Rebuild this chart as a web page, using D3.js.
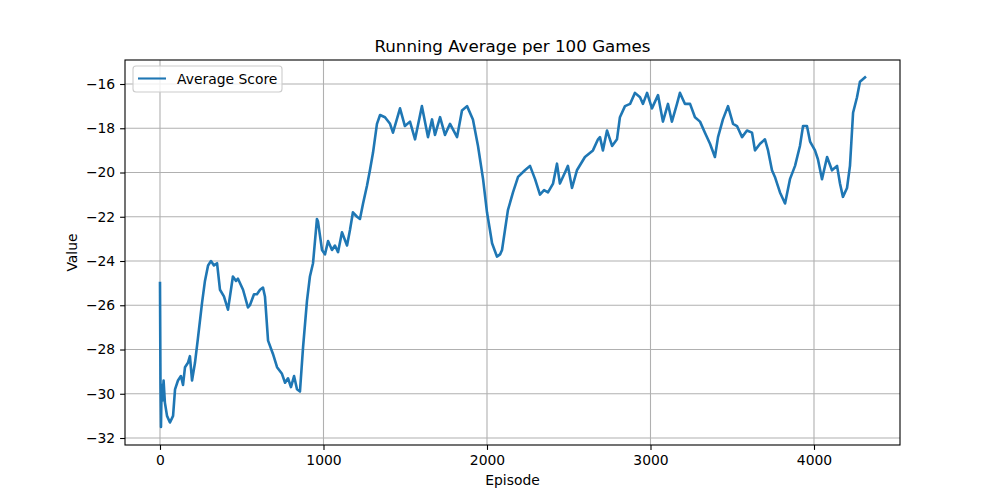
<!DOCTYPE html>
<html>
<head>
<meta charset="utf-8">
<script src="https://cdn.jsdelivr.net/npm/d3@7"></script>
<style>
  html, body { margin: 0; padding: 0; background: #fff; }
  svg { display: block; font-family: "DejaVu Sans", sans-serif; }
</style>
</head>
<body>
<svg id="chart" width="1000" height="500"></svg>
<script>
const episodes = [0,3,6,10,15,22,30,43,61,80,92,110,128,141,153,171,183,196,214,232,257,275,294,312,330,349,367,391,416,446,465,477,508,538,550,575,593,612,630,642,661,691,716,746,765,783,801,820,838,856,875,899,917,936,960,966,991,1009,1028,1052,1070,1089,1113,1144,1162,1180,1205,1223,1242,1266,1284,1303,1327,1346,1376,1407,1425,1468,1498,1529,1560,1602,1639,1664,1682,1713,1743,1774,1817,1847,1878,1914,1945,1976,2000,2018,2031,2061,2080,2092,2110,2128,2159,2190,2232,2263,2294,2324,2349,2373,2404,2428,2446,2477,2495,2520,2550,2599,2648,2679,2691,2709,2734,2765,2795,2813,2844,2875,2905,2936,2954,2979,3009,3046,3076,3107,3131,3162,3180,3211,3242,3272,3303,3333,3364,3394,3413,3443,3474,3505,3529,3560,3590,3621,3639,3670,3700,3719,3743,3761,3792,3823,3853,3884,3914,3933,3957,3976,4006,4024,4049,4080,4110,4141,4159,4177,4202,4220,4239,4263,4281,4312];
const averageScore = [-25.0,-29.5,-31.5,-29.6,-30.3,-29.4,-30.4,-31.0,-31.3,-31.0,-29.8,-29.4,-29.2,-29.6,-28.8,-28.6,-28.3,-29.4,-28.6,-27.5,-25.9,-24.9,-24.2,-24.0,-24.2,-24.1,-25.3,-25.6,-26.2,-24.7,-24.9,-24.8,-25.3,-26.1,-26.0,-25.5,-25.5,-25.3,-25.2,-25.6,-27.6,-28.2,-28.8,-29.1,-29.5,-29.3,-29.7,-29.2,-29.8,-29.9,-27.9,-25.8,-24.7,-24.1,-22.1,-22.2,-23.5,-23.7,-23.1,-23.5,-23.3,-23.6,-22.7,-23.3,-22.6,-21.8,-22.0,-22.1,-21.4,-20.6,-19.9,-19.1,-17.8,-17.4,-17.5,-17.8,-18.2,-17.1,-17.9,-17.7,-18.5,-17.0,-18.4,-17.6,-18.3,-17.5,-18.3,-17.8,-18.4,-17.2,-17.0,-17.6,-18.8,-20.3,-21.8,-22.6,-23.2,-23.8,-23.7,-23.5,-22.6,-21.7,-20.9,-20.2,-19.9,-19.7,-20.3,-21.0,-20.8,-20.9,-20.5,-19.6,-20.5,-20.0,-19.7,-20.7,-19.9,-19.3,-19.0,-18.5,-18.4,-19.0,-18.1,-18.8,-18.5,-17.5,-17.0,-16.9,-16.4,-16.6,-16.9,-16.4,-17.1,-16.5,-17.7,-16.9,-17.7,-16.9,-16.4,-16.9,-16.9,-17.5,-17.7,-18.2,-18.7,-19.3,-18.4,-17.6,-17.0,-17.8,-17.9,-18.4,-18.1,-18.2,-19.0,-18.7,-18.5,-19.0,-19.9,-20.2,-20.9,-21.4,-20.3,-19.7,-18.8,-17.9,-17.9,-18.6,-19.0,-19.4,-20.3,-19.3,-19.9,-19.7,-20.5,-21.1,-20.7,-19.7,-17.3,-16.6,-15.9,-15.7];
const xTicks = [0,1000,2000,3000,4000];
const yTicks = [-32,-30,-28,-26,-24,-22,-20,-18,-16];
const titleText = "Running Average per 100 Games";
const xLabel = "Episode";
const yLabel = "Value";
const seriesName = "Average Score";

const data = episodes.map((e,i)=>({x:e,y:averageScore[i]}));
const svg = d3.select("#chart");
const L=125,R=900,T=60,B=445;
const x = d3.scaleLinear().domain([-214,4526]).range([L,R]);
const y = d3.scaleLinear().domain([-32.316,-14.915]).range([B,T]);
const fmt = d => String(d).replace("-", "\u2212");

// grid
const g = svg.append("g");
g.selectAll(".gx").data(xTicks).join("line")
  .attr("x1",d=>x(d)).attr("x2",d=>x(d)).attr("y1",T).attr("y2",B)
  .attr("stroke","#b0b0b0").attr("stroke-width",1.1);
g.selectAll(".gy").data(yTicks).join("line")
  .attr("y1",d=>y(d)).attr("y2",d=>y(d)).attr("x1",L).attr("x2",R)
  .attr("stroke","#b0b0b0").attr("stroke-width",1.1);

// line
svg.append("defs").append("clipPath").attr("id","clip").append("rect")
  .attr("x",L).attr("y",T).attr("width",R-L).attr("height",B-T);
svg.append("path").datum(data)
  .attr("clip-path","url(#clip)")
  .attr("fill","none").attr("stroke","#1f77b4").attr("stroke-width",2.6)
  .attr("stroke-linejoin","round").attr("stroke-linecap","square")
  .attr("d", d3.line().x(d=>x(d.x)).y(d=>y(d.y)));

// axes
const xa = svg.append("g").attr("transform",`translate(0,${B})`)
  .call(d3.axisBottom(x).tickValues(xTicks).tickFormat(fmt).tickSizeOuter(0).tickSize(4.9).tickPadding(4.9));
const ya = svg.append("g").attr("transform",`translate(${L},0)`)
  .call(d3.axisLeft(y).tickValues(yTicks).tickFormat(fmt).tickSizeOuter(0).tickSize(4.9).tickPadding(4.9));
[xa,ya].forEach(a=>{
  a.select(".domain").remove();
  a.selectAll("line").attr("stroke","#000").attr("stroke-width",1.1);
  a.selectAll("text").attr("fill","#000").style("font-size","13.9px").style("font-family","DejaVu Sans");
});
// spines
svg.append("rect").attr("x",L).attr("y",T).attr("width",R-L).attr("height",B-T)
  .attr("fill","none").attr("stroke","#000").attr("stroke-width",1.1);

// labels
svg.append("text").attr("x",(L+R)/2).attr("y",52).attr("text-anchor","middle")
  .style("font-size","16.7px").text(titleText);
svg.append("text").attr("x",(L+R)/2).attr("y",485).attr("text-anchor","middle")
  .style("font-size","13.9px").text(xLabel);
svg.append("text").attr("transform",`translate(77,${(T+B)/2}) rotate(-90)`).attr("text-anchor","middle")
  .style("font-size","13.9px").text(yLabel);

// legend
const lg = svg.append("g");
lg.append("rect").attr("x",133).attr("y",66).attr("width",149).attr("height",26).attr("rx",3)
  .attr("fill","#fff").attr("fill-opacity",0.8).attr("stroke","#cccccc").attr("stroke-width",1.1);
lg.append("line").attr("x1",138).attr("x2",166).attr("y1",78.5).attr("y2",78.5)
  .attr("stroke","#1f77b4").attr("stroke-width",2.1);
lg.append("text").attr("x",177).attr("y",83.5).style("font-size","13.9px").text(seriesName);
</script>
</body>
</html>
